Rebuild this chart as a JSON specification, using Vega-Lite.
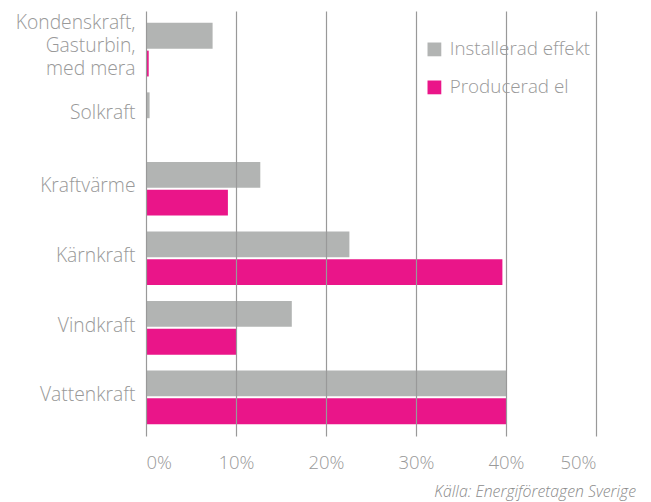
{
  "$schema": "https://vega.github.io/schema/vega-lite/v6.json",
  "autosize": {"type": "none"},
  "width": 450,
  "height": 425,
  "padding": {"left": 146, "top": 11, "right": 55, "bottom": 66},
  "background": "white",
  "config": {
    "view": {"stroke": null},
    "font": "Open Sans",
    "axis": {"labelFont": "Open Sans", "labelFontWeight": 300},
    "legend": {"labelFont": "Open Sans", "labelFontWeight": 300}
  },
  "title": {
    "text": "Källa: Energiföretagen Sverige",
    "orient": "bottom",
    "anchor": "end",
    "dx": 39,
    "offset": 13,
    "font": "Open Sans",
    "fontStyle": "italic",
    "fontWeight": 300,
    "fontSize": 15.8,
    "color": "#8a8a8a"
  },
  "data": {
    "values": [
      {"kategori": "Kondenskraft,|Gasturbin,|med mera", "serie": "Installerad effekt", "andel": 0.074},
      {"kategori": "Kondenskraft,|Gasturbin,|med mera", "serie": "Producerad el", "andel": 0.003},
      {"kategori": "Solkraft", "serie": "Installerad effekt", "andel": 0.004},
      {"kategori": "Solkraft", "serie": "Producerad el", "andel": 0.0},
      {"kategori": "Kraftvärme", "serie": "Installerad effekt", "andel": 0.127},
      {"kategori": "Kraftvärme", "serie": "Producerad el", "andel": 0.091},
      {"kategori": "Kärnkraft", "serie": "Installerad effekt", "andel": 0.226},
      {"kategori": "Kärnkraft", "serie": "Producerad el", "andel": 0.396},
      {"kategori": "Vindkraft", "serie": "Installerad effekt", "andel": 0.162},
      {"kategori": "Vindkraft", "serie": "Producerad el", "andel": 0.1},
      {"kategori": "Vattenkraft", "serie": "Installerad effekt", "andel": 0.4},
      {"kategori": "Vattenkraft", "serie": "Producerad el", "andel": 0.4}
    ]
  },
  "mark": {"type": "bar"},
  "encoding": {
    "y": {
      "field": "kategori",
      "type": "nominal",
      "sort": ["Kondenskraft,|Gasturbin,|med mera", "Solkraft", "Kraftvärme", "Kärnkraft", "Vindkraft", "Vattenkraft"],
      "scale": {"paddingInner": 0.2286, "paddingOuter": 0.17},
      "axis": {
        "title": null,
        "domain": false,
        "ticks": false,
        "labelExpr": "split(datum.label, '|')",
        "labelFontSize": 19.3,
        "labelLineHeight": 23,
        "labelColor": "#999999",
        "labelPadding": 11,
        "labelOffset": {
          "condition": [
            {"test": "datum.value == 'Kondenskraft,|Gasturbin,|med mera'", "value": -27},
            {"test": "datum.value == 'Solkraft'", "value": -6},
            {"test": "datum.value == 'Kraftvärme'", "value": -3}
          ],
          "value": -2
        }
      }
    },
    "yOffset": {
      "field": "serie",
      "type": "nominal",
      "scale": {"paddingInner": 0.0714}
    },
    "x": {
      "field": "andel",
      "type": "quantitative",
      "scale": {"domain": [0, 0.5], "nice": false},
      "axis": {
        "title": null,
        "format": ".0%",
        "values": [0, 0.1, 0.2, 0.3, 0.4, 0.5],
        "grid": true,
        "gridColor": "#999999",
        "gridWidth": 1.2,
        "domain": false,
        "ticks": false,
        "labelFontSize": 18.5,
        "labelColor": "#999999",
        "labelPadding": 17,
        "zindex": 1
      }
    },
    "color": {
      "field": "serie",
      "type": "nominal",
      "scale": {"domain": ["Installerad effekt", "Producerad el"], "range": ["#b2b4b3", "#ea1589"]},
      "legend": {
        "title": null,
        "orient": "none",
        "legendX": 273,
        "legendY": 23,
        "fillColor": "white",
        "padding": 6,
        "symbolType": "square",
        "symbolSize": 190,
        "symbolStrokeWidth": 0,
        "symbolOpacity": 1,
        "labelFontSize": 18.8,
        "labelColor": "#999999",
        "labelOffset": 6,
        "rowPadding": 18
      }
    }
  }
}
